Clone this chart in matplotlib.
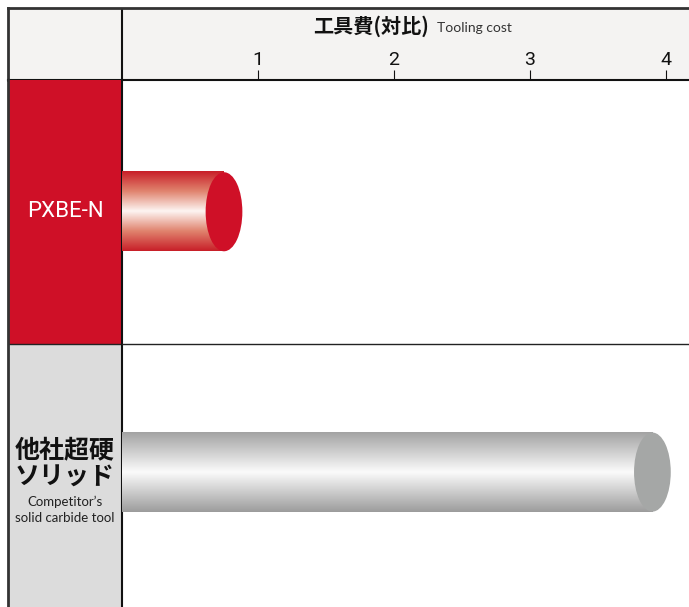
import numpy as np
import matplotlib.pyplot as plt
from matplotlib.patches import Ellipse
from matplotlib.colors import LinearSegmentedColormap

# data
tools = ["PXBE-N", "他社超硬"]
cost = [0.75, 3.9]
ticks = [1, 2, 3, 4]
title_jp = "工具費(対比)"
title_en = "Tooling cost"

W, H = 689, 607
RED = "#cf1027"
GRAY_CELL = "#dcdcdc"
HEAD = "#f4f3f2"
NARROW = ['Liberation Sans Narrow', 'Roboto', 'DejaVu Sans']

plt.rcParams['font.family'] = ['Noto Sans CJK JP', 'DejaVu Sans']


def box(x0, y0, x1, y1):
    return [x0 / W, 1 - y1 / H, (x1 - x0) / W, (y1 - y0) / H]


fig = plt.figure(figsize=(W / 100, H / 100), dpi=100)

# header strip
hd = fig.add_axes(box(8, 8, 689, 80))
hd.set_facecolor(HEAD)
hd.set_xlim(8, 689)
hd.set_ylim(80, 8)
hd.set_xticks([])
hd.set_yticks([])
hd.spines['right'].set_visible(False)
hd.spines['top'].set_color("#333333")
hd.spines['top'].set_linewidth(2)
hd.spines['left'].set_color("#333333")
hd.spines['left'].set_linewidth(2)
hd.spines['bottom'].set_color("#111111")
hd.spines['bottom'].set_linewidth(1.5)
hd.axvline(122, color="#111111", lw=1.5)
hd.text(429, 26, title_jp, ha='right', va='center', fontsize=14.5,
        fontweight='bold', color="#111111")
hd.text(437, 28.5, title_en, ha='left', va='center', fontsize=10,
        color="#333333", family=['Lato', 'DejaVu Sans'])

# left label column
lc = fig.add_axes(box(8, 80, 122, 607))
lc.set_xlim(0, 1)
lc.set_ylim(1.5, -0.5)
lc.axhspan(-0.5, 0.5, color=RED, lw=0)
lc.axhspan(0.5, 1.5, color=GRAY_CELL, lw=0)
lc.axhline(0.5, color="#222222", lw=1)
lc.set_xticks([])
lc.set_yticks([])
for s in ['top', 'bottom']:
    lc.spines[s].set_visible(False)
lc.spines['left'].set_color("#333333")
lc.spines['left'].set_linewidth(2)
lc.spines['right'].set_color("#111111")
lc.spines['right'].set_linewidth(1.5)

lc.text(0.5, 0.0, tools[0], ha='center', va='center', color='white',
        fontsize=16, family=NARROW)
lc.text(0.5, 0.905, tools[1], ha='center', va='center', color='#111111',
        fontsize=18, fontweight='bold')
lc.text(0.5, 1.01, "ソリッド", ha='center', va='center', color='#111111',
        fontsize=18, fontweight='bold')
lc.text(0.5, 1.10, "Competitor’s", ha='center', va='center', color='#222222',
        fontsize=9.5, family=['Lato', 'DejaVu Sans'])
lc.text(0.5, 1.162, "solid carbide tool", ha='center', va='center',
        color='#222222', fontsize=9.5, family=['Lato', 'DejaVu Sans'])

# main plot area
ax = fig.add_axes(box(122, 80, 689, 607))
ax.patch.set_alpha(0)
xmax = (689 - 122) / 136
bar_h = 0.30
cap_w = 0.27

cmaps = [
    LinearSegmentedColormap.from_list(
        "r", ["#c81f28", "#e0836e", "#fdf5f2", "#e0836e", "#c81f28"]),
    LinearSegmentedColormap.from_list(
        "g", ["#a3a3a3", "#cfcfcf", "#fbfbfb", "#cccccc", "#9c9c9c"]),
]
caps = [RED, "#a5a7a6"]
grad = np.linspace(0, 1, 256).reshape(-1, 1)
for i, v in enumerate(cost):
    yc = i - 0.012 * i
    ax.imshow(grad, cmap=cmaps[i], aspect='auto',
              extent=[0, v, yc + bar_h / 2, yc - bar_h / 2], zorder=2)
    ax.add_patch(Ellipse((v, yc), cap_w, bar_h, facecolor=caps[i],
                         edgecolor='none', zorder=3))

ax.axhline(0.5, color="#222222", lw=1)
ax.set_xlim(0, xmax)
ax.set_ylim(1.5, -0.5)
ax.set_yticks([])
ax.xaxis.tick_top()
ax.set_xticks(ticks)
ax.set_xticklabels([str(t) for t in ticks], family=NARROW)
ax.tick_params(axis='x', direction='out', length=7, width=0.8, pad=1,
               labelsize=14, colors="#111111")
for s in ax.spines.values():
    s.set_visible(False)

fig.savefig("out.png", dpi=100)
